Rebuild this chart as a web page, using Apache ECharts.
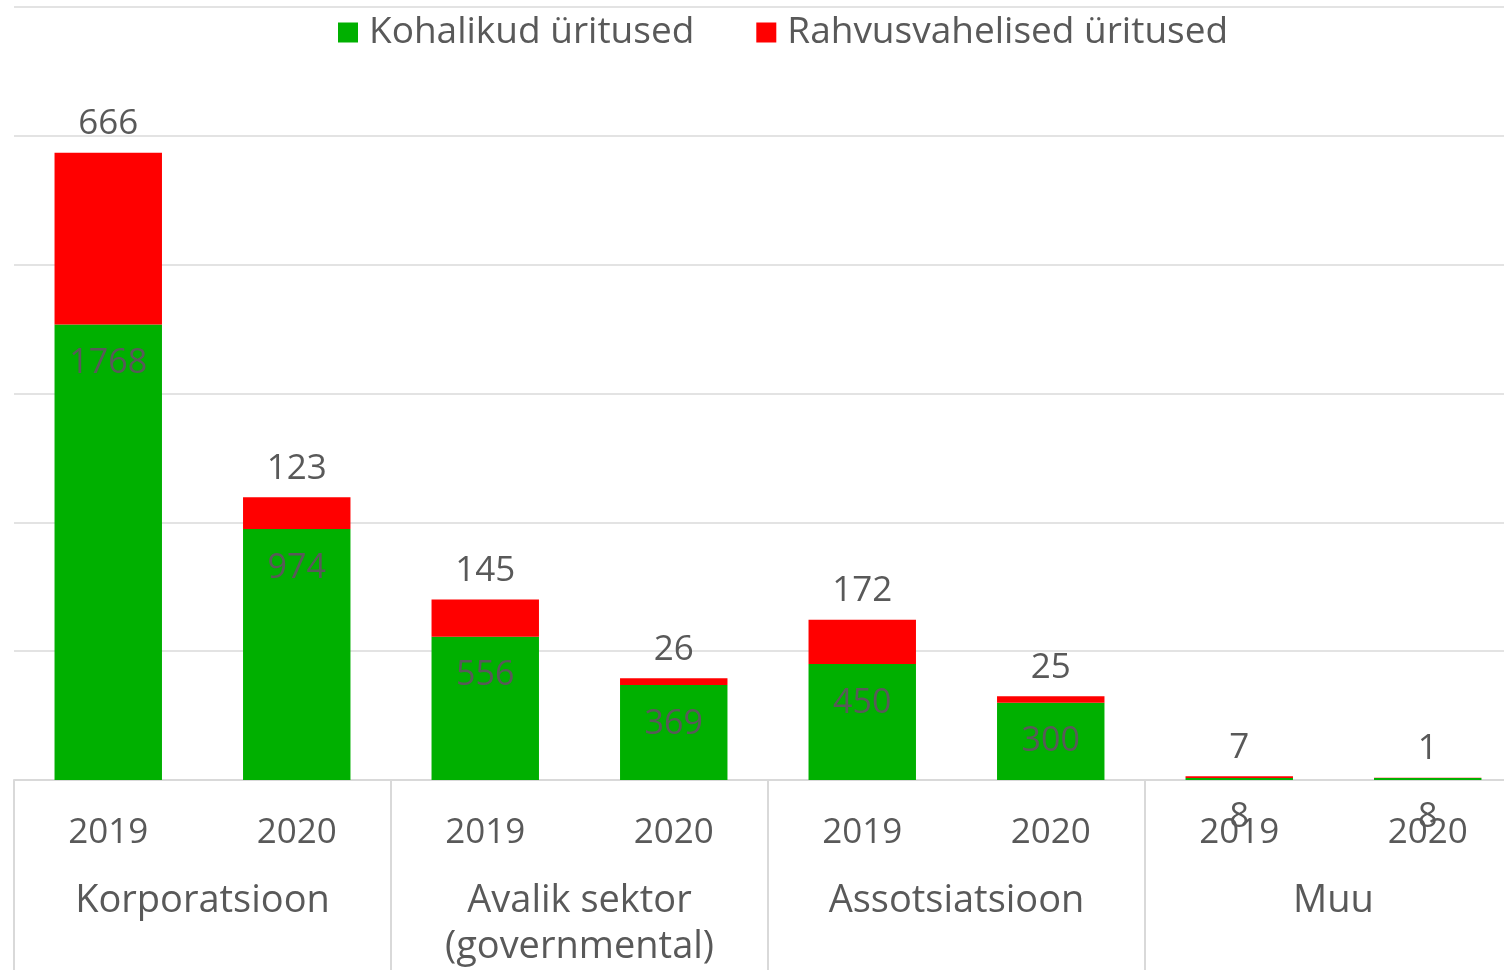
<!DOCTYPE html>
<html>
<head>
    <meta charset="UTF-8">
    <title>Üritused</title>
    <script src="https://cdn.jsdelivr.net/npm/echarts@6/dist/echarts.min.js"></script>
    <style>
        html, body { margin: 0; padding: 0; background: #fff; overflow: hidden; }
    </style>
</head>
<body>
<div id="chart" style="width:1530px; height:970px;"></div>
<script>
    var years = ['2019', '2020', '2019', '2020', '2019', '2020', '2019', '2020'];
    var groups = ['Korporatsioon', 'Avalik sektor\n(governmental)', 'Assotsiatsioon', 'Muu'];
    var kohalikud = [1768, 974, 556, 369, 450, 300, 8, 8];
    var rahvusvahelised = [666, 123, 145, 26, 172, 25, 7, 1];

    var textColor = '#595959';
    var fontFamily = '"Open Sans", "Noto Sans", sans-serif';

    var chart = echarts.init(document.getElementById('chart'), null, {renderer: 'canvas'});

    chart.setOption({
        animation: false,
        textStyle: {fontFamily: fontFamily},
        legend: {
            top: 9,
            left: 333,
            itemWidth: 20,
            itemHeight: 20,
            itemGap: 62,
            icon: 'rect',
            textStyle: {fontSize: 37, color: textColor, fontFamily: fontFamily, padding: [0, 0, 0, 6]},
            data: ['Kohalikud üritused', 'Rahvusvahelised üritused']
        },
        grid: {left: 14, width: 1508, top: 7, bottom: 190, containLabel: false},
        xAxis: [
            {
                type: 'category',
                data: years,
                position: 'bottom',
                axisLine: {lineStyle: {color: '#d9d9d9', width: 2}},
                axisTick: {show: false},
                axisLabel: {fontSize: 35, color: textColor, margin: 36, fontFamily: fontFamily}
            },
            {
                type: 'category',
                data: groups,
                position: 'bottom',
                axisLine: {show: false},
                axisTick: {show: true, length: 191, interval: 0, lineStyle: {color: '#d9d9d9', width: 2}},
                axisLabel: {fontSize: 38, color: textColor, margin: 98, interval: 0, lineHeight: 46, fontFamily: fontFamily}
            }
        ],
        yAxis: {
            type: 'value',
            min: 0,
            max: 3000,
            interval: 500,
            axisLabel: {show: false},
            axisLine: {show: false},
            axisTick: {show: false},
            splitLine: {lineStyle: {color: '#e3e3e3', width: 2}}
        },
        series: [
            {
                name: 'Kohalikud üritused',
                type: 'bar',
                stack: 'total',
                xAxisIndex: 0,
                barWidth: '57%',
                itemStyle: {color: '#00b000'},
                label: {
                    show: true,
                    position: 'insideTop',
                    distance: 22,
                    fontSize: 34,
                    color: textColor,
                    fontFamily: fontFamily
                },
                data: kohalikud
            },
            {
                name: 'Rahvusvahelised üritused',
                type: 'bar',
                stack: 'total',
                xAxisIndex: 0,
                barWidth: '57%',
                itemStyle: {color: '#ff0000'},
                label: {
                    show: true,
                    position: 'top',
                    distance: 11,
                    fontSize: 35,
                    color: textColor,
                    fontFamily: fontFamily
                },
                data: rahvusvahelised
            }
        ]
    });
</script>
</body>
</html>
